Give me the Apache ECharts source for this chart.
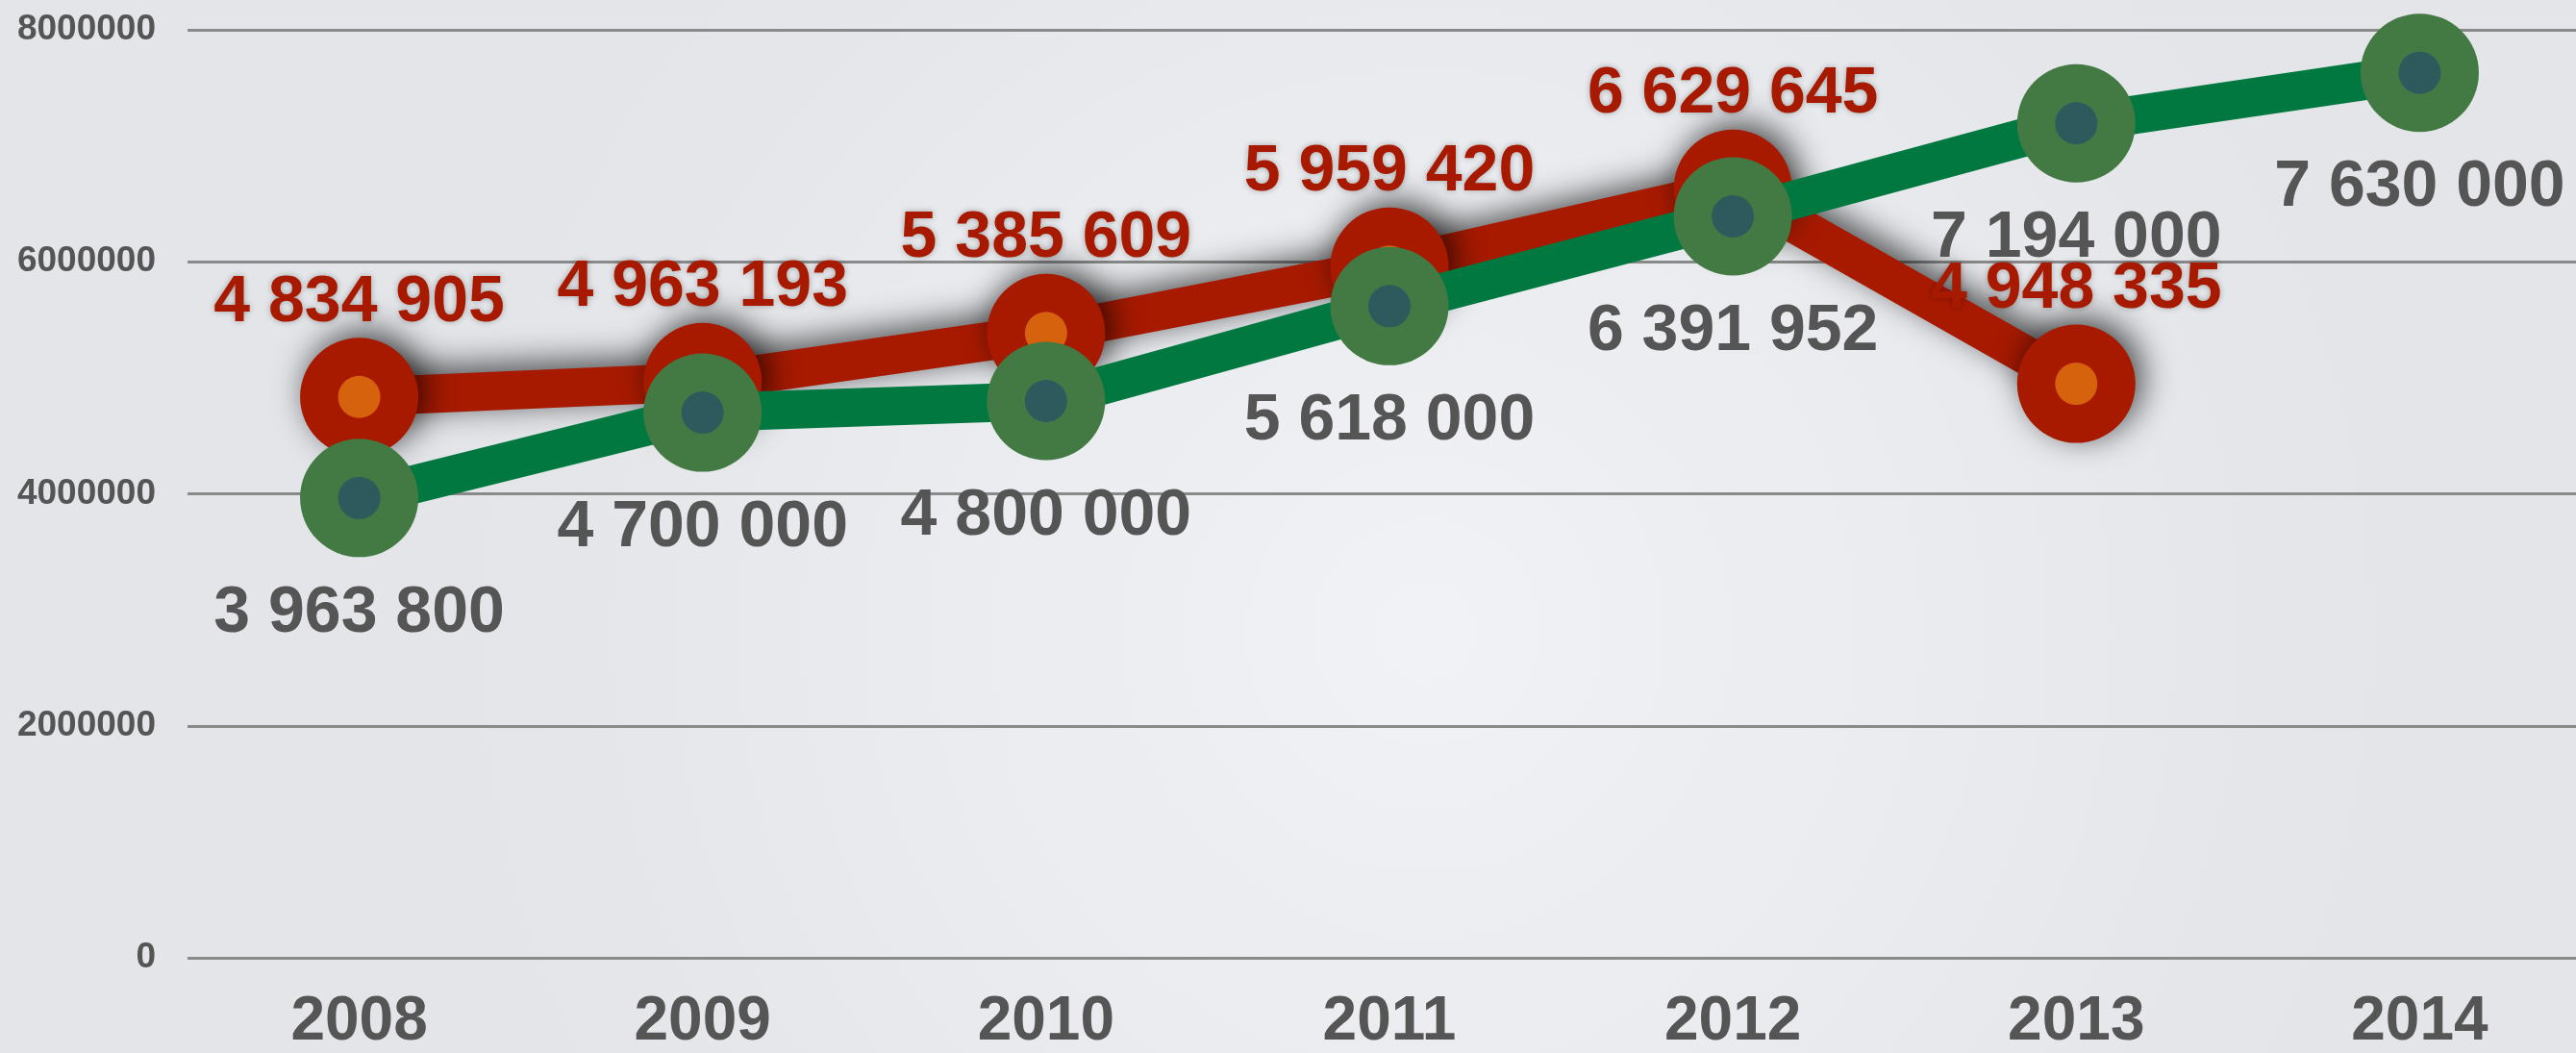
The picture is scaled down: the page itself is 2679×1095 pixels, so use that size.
<!DOCTYPE html>
<html>
<head>
<meta charset="utf-8">
<script src="https://cdn.jsdelivr.net/npm/echarts@6/dist/echarts.min.js"></script>
<style>
html,body{margin:0;padding:0;width:2679px;height:1095px;overflow:hidden;background:#e8eaed;}
#c{width:2695px;height:1095px;}
</style>
</head>
<body>
<div id="c"></div>
<script>
const years = ['2008', '2009', '2010', '2011', '2012', '2013', '2014'];
const redValues = [4834905, 4963193, 5385609, 5959420, 6629645, 4948335];
const greenValues = [3963800, 4700000, 4800000, 5618000, 6391952, 7194000, 7630000];
const yMin = 0, yMax = 8000000, yInterval = 2000000;

function fmt(v) {
  return String(v).replace(/\B(?=(\d{3})+(?!\d))/g, ' ');
}
const FONT = 'Liberation Sans';
const RED = '#a81a00', ORANGE = '#d6620e', GREEN_LINE = '#007840', GREEN_RING = '#437a43', TEAL = '#2e5a5e';
const SHADOW = {shadowColor: 'rgba(0,0,0,0.7)', shadowBlur: 34, shadowOffsetX: 7, shadowOffsetY: -7};

const chart = echarts.init(document.getElementById('c'), null, {renderer: 'canvas'});
chart.setOption({
  animation: false,
  backgroundColor: {
    type: 'radial', x: 0.55, y: 0.6, r: 0.9,
    colorStops: [{offset: 0, color: '#f1f2f5'}, {offset: 1, color: '#e3e5e9'}]
  },
  grid: {left: 195, right: 0, top: 31, bottom: 90},
  xAxis: {
    type: 'category',
    data: years,
    boundaryGap: true,
    axisLine: {show: false},
    axisTick: {show: false},
    axisLabel: {color: '#555555', fontFamily: FONT, fontWeight: 'bold', fontSize: 64, margin: 35}
  },
  yAxis: {
    type: 'value',
    min: yMin, max: yMax, interval: yInterval,
    axisLine: {show: false},
    axisTick: {show: false},
    splitLine: {lineStyle: {color: '#8a8a8a', width: 3}},
    axisLabel: {color: '#555555', fontFamily: FONT, fontWeight: 'bold', fontSize: 37, margin: 33,
      formatter: v => String(v)}
  },
  series: [
    {
      type: 'line',
      data: redValues,
      symbol: 'circle',
      symbolSize: 123,
      showAllSymbol: true,
      lineStyle: Object.assign({color: RED, width: 40}, SHADOW),
      itemStyle: Object.assign({color: RED}, SHADOW),
      emphasis: {disabled: true},
      z: 2
    },
    {
      type: 'line',
      data: redValues,
      symbol: 'circle',
      symbolSize: 44,
      showAllSymbol: true,
      lineStyle: {width: 0, opacity: 0},
      itemStyle: {color: ORANGE},
      emphasis: {disabled: true},
      z: 2
    },
    {
      type: 'line',
      data: greenValues,
      symbol: 'circle',
      symbolSize: 123,
      showAllSymbol: true,
      lineStyle: {color: GREEN_LINE, width: 40},
      itemStyle: {color: GREEN_RING},
      emphasis: {disabled: true},
      z: 3
    },
    {
      type: 'line',
      data: greenValues,
      symbol: 'circle',
      symbolSize: 44,
      showAllSymbol: true,
      lineStyle: {width: 0, opacity: 0},
      itemStyle: {color: TEAL},
      label: {
        show: true, position: 'bottom', distance: 64,
        color: '#555555', fontFamily: FONT, fontWeight: 'bold', fontSize: 68,
        formatter: p => fmt(p.value)
      },
      emphasis: {disabled: true},
      z: 4
    },
    {
      type: 'line',
      data: redValues,
      symbol: 'circle',
      symbolSize: 44,
      showAllSymbol: true,
      lineStyle: {width: 0, opacity: 0},
      itemStyle: {color: 'rgba(0,0,0,0)'},
      label: {
        show: true, position: 'top', distance: 42,
        color: RED, fontFamily: FONT, fontWeight: 'bold', fontSize: 68,
        textShadowColor: 'rgba(0,0,0,0.3)', textShadowBlur: 6,
        formatter: p => fmt(p.value)
      },
      emphasis: {disabled: true},
      z: 5
    }
  ]
});
</script>
</body>
</html>
